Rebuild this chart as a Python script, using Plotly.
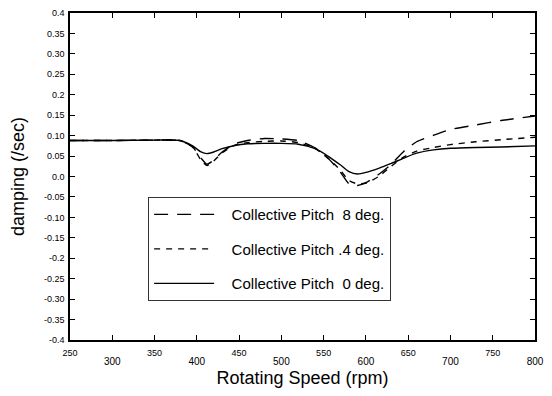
import plotly.graph_objects as go

# Rotor speed (rpm) and damping (/sec) for three collective pitch settings
rpm = [250, 300, 350, 380, 395, 405, 412, 420, 430, 445, 460, 480, 500, 520, 540,
       555, 570, 580, 590, 600, 615, 630, 645, 660, 680, 700, 730, 760, 800]

damp_8deg = [0.088, 0.088, 0.089, 0.088, 0.072, 0.045, 0.030, 0.040, 0.060, 0.080,
             0.088, 0.093, 0.092, 0.088, 0.070, 0.045, 0.010, -0.018, -0.022, -0.015,
             0.005, 0.030, 0.062, 0.085, 0.101, 0.115, 0.126, 0.137, 0.148]

damp_04deg = [0.088, 0.088, 0.089, 0.088, 0.072, 0.040, 0.027, 0.038, 0.058, 0.077,
              0.083, 0.086, 0.087, 0.083, 0.068, 0.045, 0.015, -0.010, -0.018, -0.016,
              0.000, 0.025, 0.048, 0.062, 0.071, 0.078, 0.085, 0.090, 0.096]

damp_0deg = [0.088, 0.088, 0.089, 0.088, 0.075, 0.060, 0.056, 0.060, 0.068, 0.076,
             0.080, 0.081, 0.081, 0.079, 0.068, 0.050, 0.028, 0.012, 0.006, 0.010,
             0.020, 0.032, 0.045, 0.057, 0.065, 0.069, 0.071, 0.072, 0.075]

PAD = "\u00a0\u00a0\u00a0"
series_names = [PAD + "Collective Pitch\u00a0\u00a08 deg.",
                PAD + "Collective Pitch .4 deg.",
                PAD + "Collective Pitch\u00a0\u00a00 deg."]

y_tickvals = [0.4, 0.35, 0.30, 0.25, 0.2, 0.15, 0.10, 0.05, 0.0, -0.05, -0.10,
              -0.15, -0.2, -0.25, -0.30, -0.35, -0.4]
y_ticktext = ["0.4", "0.35", "0.30", "0.25", "0.2", "0.15", "0.10", "0.05", "0.0",
              "-0.05", "-0.10", "-0.15", "-0.2", "-0.25", "-0.30", "-0.35", "-0.4"]

x_upper_vals = [250, 350, 450, 550, 650, 750]
x_upper_text = ["250", "350", "450", "550", "650", "750"]
x_lower_vals = [300, 400, 500, 600, 700, 800]
x_lower_text = ["300", "400", "500", "600", "700", "800"]

FONT = "Arial, Liberation Sans, sans-serif"

fig = go.Figure()
styles = [("14px,9px", damp_8deg), ("6px,6px", damp_04deg), ("solid", damp_0deg)]
for i, (name, (dash, vals)) in enumerate(zip(series_names, styles)):
    fig.add_trace(go.Scatter(
        x=rpm, y=vals, mode="lines", name=name, legendgroup=f"g{i}",
        line=dict(color="black", width=1.4, dash=dash, shape="spline", smoothing=0.6),
    ))

# the staggered lower row of speed labels lives on a second, overlaid x axis
fig.add_trace(go.Scatter(
    x=rpm, y=damp_0deg, xaxis="x2", mode="lines", showlegend=False,
    hoverinfo="skip", line=dict(width=0, color="rgba(0,0,0,0)"),
))

axis_common = dict(
    showline=True, linecolor="black", linewidth=1.5, mirror="ticks",
    ticks="inside", ticklen=5, tickwidth=1.2, tickcolor="black",
    showgrid=False, zeroline=False, automargin=False,
)

fig.update_layout(
    width=552, height=396,
    margin=dict(l=70, r=17, t=13, b=56),
    paper_bgcolor="white", plot_bgcolor="white",
    font=dict(family=FONT, color="black"),
    showlegend=True,
    legend=dict(
        x=0.168, y=0.437, xanchor="left", yanchor="top",
        bgcolor="white", bordercolor="#333", borderwidth=1,
        font=dict(size=15, family=FONT, color="black"), tracegroupgap=12,
        itemwidth=60,
    ),
    xaxis=dict(
        range=[250, 800], tickmode="array",
        tickvals=x_upper_vals + x_lower_vals,
        ticktext=x_upper_text + [""] * len(x_lower_vals),
        tickfont=dict(size=9, family=FONT, color="black"),
        ticklabelstandoff=3,
        title=dict(text="Rotating Speed (rpm)", font=dict(size=18, color="black"), standoff=15),
        **axis_common,
    ),
    xaxis2=dict(
        range=[250, 800], overlaying="x", side="bottom", anchor="y",
        tickmode="array", tickvals=x_lower_vals, ticktext=x_lower_text,
        tickfont=dict(size=10, family=FONT, color="black"), ticks="", showline=False,
        showgrid=False, zeroline=False, ticklabelstandoff=14, automargin=False,
    ),
    yaxis=dict(
        range=[-0.4, 0.4], tickmode="array",
        tickvals=y_tickvals, ticktext=y_ticktext,
        tickfont=dict(size=9, family=FONT, color="black"),
        ticklabelstandoff=2,
        title=dict(text="damping (/sec)", font=dict(size=18, color="black"), standoff=15),
        **axis_common,
    ),
)

fig.write_html("out.html")
